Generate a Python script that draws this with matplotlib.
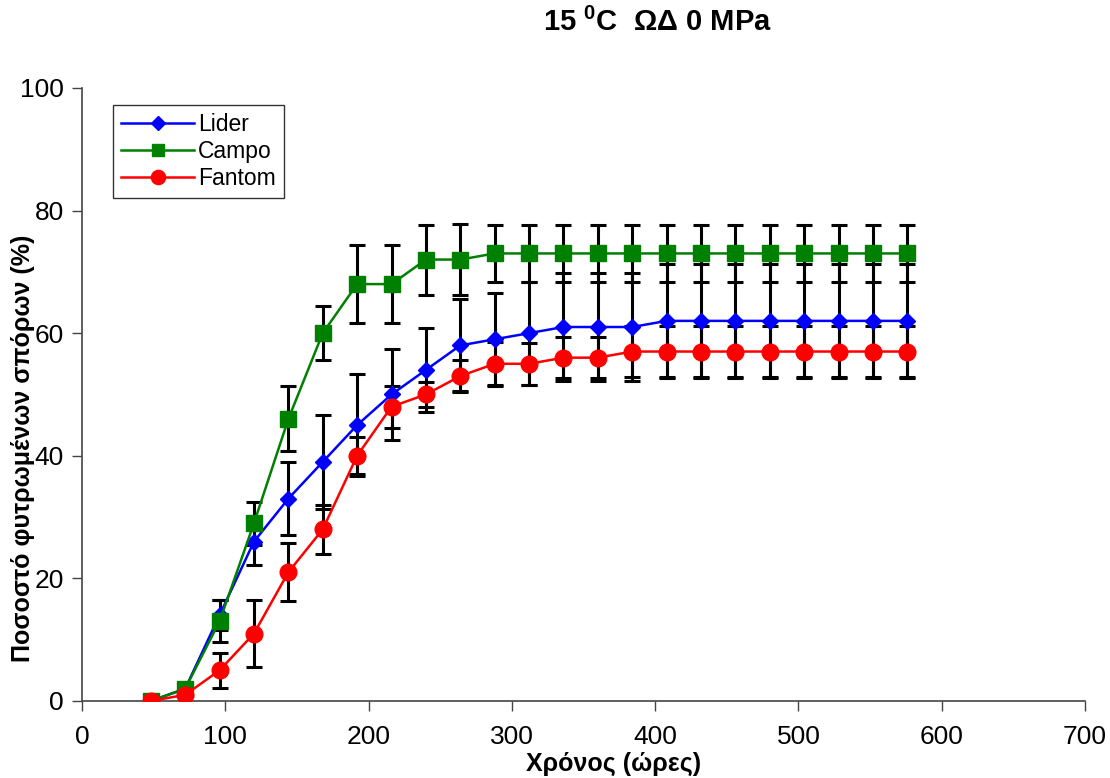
import matplotlib
matplotlib.use("Agg")
import matplotlib.pyplot as plt
import numpy as np

plt.rcParams['font.family'] = ['Liberation Sans', 'DejaVu Sans']
plt.rcParams['mathtext.fontset'] = 'custom'
plt.rcParams['mathtext.rm'] = 'Liberation Sans'
plt.rcParams['mathtext.bf'] = 'Liberation Sans:bold'

# hours
hours = [48, 72, 96, 120, 144, 168, 192, 216, 240, 264, 288, 312,
         336, 360, 384, 408, 432, 456, 480, 504, 528, 552, 576]

lider = [0, 2, 14, 26, 33, 39, 45, 50, 54, 58, 59, 60,
         61, 61, 61, 62, 62, 62, 62, 62, 62, 62, 62]
lider_err = [0, 0, 2.5, 3.8, 6, 7.7, 8.3, 7.4, 6.9, 7.5, 7.6, 8.4,
             8.8, 8.8, 8.8, 9.3, 9.3, 9.3, 9.3, 9.3, 9.3, 9.3, 9.3]

campo = [0, 2, 13, 29, 46, 60, 68, 68, 72, 72, 73, 73,
         73, 73, 73, 73, 73, 73, 73, 73, 73, 73, 73]
campo_err = [0, 0, 3.4, 3.5, 5.3, 4.4, 6.3, 6.3, 5.7, 5.8, 4.7, 4.7,
             4.7, 4.7, 4.7, 4.7, 4.7, 4.7, 4.7, 4.7, 4.7, 4.7, 4.7]

fantom = [0, 1, 5, 11, 21, 28, 40, 48, 50, 53, 55, 55,
          56, 56, 57, 57, 57, 57, 57, 57, 57, 57, 57]
fantom_err = [0, 0, 2.9, 5.4, 4.7, 4.0, 3.0, 3.4, 2.0, 2.6, 3.5, 3.4,
              3.3, 3.3, 4.1, 4.1, 4.1, 4.1, 4.1, 4.1, 4.1, 4.1, 4.1]

fig = plt.figure(figsize=(11.1, 7.78), dpi=100)
ax = fig.add_axes([0.0739, 0.099, 0.9036, 0.788])

series = [
    ("Lider", lider, lider_err, "#0000FF", "D", 8),
    ("Campo", campo, campo_err, "#008000", "s", 11),
    ("Fantom", fantom, fantom_err, "#FF0000", "o", 12),
]

for name, vals, err, col, mk, ms in series:
    ax.errorbar(hours, vals, yerr=err, fmt="none", ecolor="black",
                elinewidth=2.2, capsize=5.5, capthick=2.2, zorder=2)

for name, vals, err, col, mk, ms in series:
    ax.plot(hours, vals, color=col, marker=mk, markersize=ms, lw=1.8,
            label=name, zorder=3)

ax.set_xlim(0, 700)
ax.set_ylim(0, 100)
ax.set_xticks(np.arange(0, 701, 100))
ax.set_yticks(np.arange(0, 101, 20))
ax.tick_params(direction="out", length=7, width=1, labelsize=19,
               color="#444444", pad=6)
ax.tick_params(axis="x", pad=10)
ax.spines["top"].set_visible(False)
ax.spines["right"].set_visible(False)
for s in ["left", "bottom"]:
    ax.spines[s].set_color("#444444")
    ax.spines[s].set_linewidth(1.2)

fig.text(0.553, 0.018, "Χρόνος (ώρες)", fontsize=18, fontweight="bold",
         ha="center", va="center")
fig.text(0.021, 0.424, "Ποσοστό φυτρωμένων σπόρων (%)", rotation=90,
         fontsize=18, fontweight="bold", ha="center", va="center")

fig.text(0.592, 0.971, r"15 $^{\mathbf{0}}$C  ΩΔ 0 MPa", fontsize=21,
         fontweight="bold", ha="center", va="center")

leg = ax.legend(loc="upper left", bbox_to_anchor=(0.031, 0.972), fontsize=16.5,
                frameon=True, fancybox=False, edgecolor="black",
                handlelength=3.2, borderpad=0.35, labelspacing=0.18,
                handletextpad=0.15, borderaxespad=0, markerscale=0.85)
leg.get_frame().set_linewidth(1.0)

fig.savefig("out.png", dpi=100)
